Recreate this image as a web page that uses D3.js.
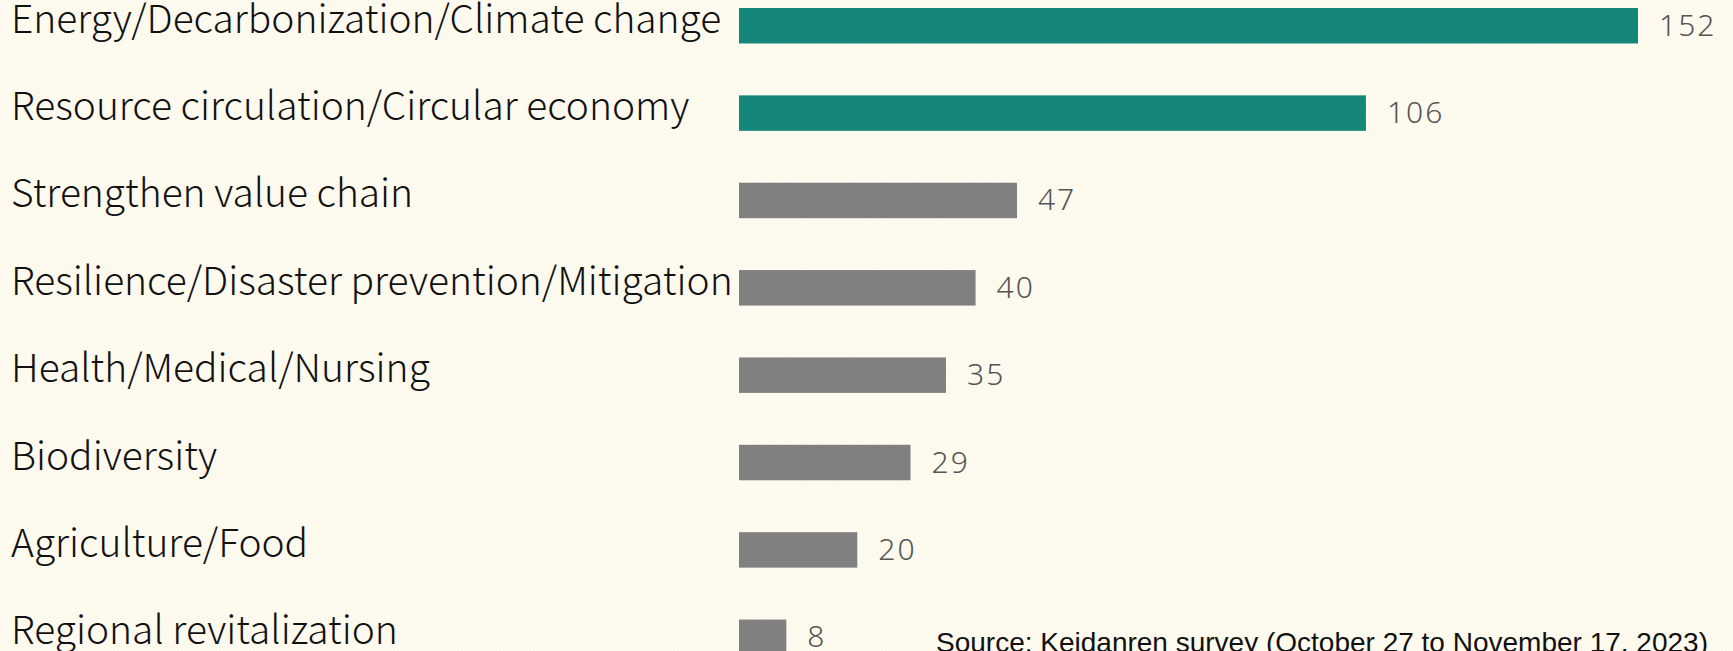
<!DOCTYPE html>
<html>
<head>
<meta charset="utf-8">
<script src="https://cdn.jsdelivr.net/npm/d3@7"></script>
<style>
  html, body { margin: 0; padding: 0; background: #fdf9ee; overflow: hidden; }
</style>
</head>
<body>
<script>
// survey answers
var categories = [
  "Energy/Decarbonization/Climate change",
  "Resource circulation/Circular economy",
  "Strengthen value chain",
  "Resilience/Disaster prevention/Mitigation",
  "Health/Medical/Nursing",
  "Biodiversity",
  "Agriculture/Food",
  "Regional revitalization"
];
var counts = [152, 106, 47, 40, 35, 29, 20, 8];
var highlighted = [
  "Energy/Decarbonization/Climate change",
  "Resource circulation/Circular economy"
];
var sourceNote = "Source: Keidanren survey (October 27 to November 17, 2023)";

var width = 1733, height = 651;
var data = categories.map(function(c, i) { return {name: c, value: counts[i]}; });

var svg = d3.select("body").append("svg")
    .attr("width", width)
    .attr("height", height);

// faint diagonal hatch in the background
var defs = svg.append("defs");
var pat = defs.append("pattern")
    .attr("id", "hatch")
    .attr("width", 3)
    .attr("height", 3)
    .attr("patternUnits", "userSpaceOnUse")
    .attr("patternTransform", "rotate(45)");
pat.append("rect").attr("width", 3).attr("height", 3).attr("fill", "#fefbf1");
pat.append("line")
    .attr("x1", 0).attr("y1", 0).attr("x2", 0).attr("y2", 3)
    .attr("stroke", "#faf4df")
    .attr("stroke-width", 1);
svg.append("rect")
    .attr("width", width)
    .attr("height", height)
    .attr("fill", "url(#hatch)");

var x = d3.scaleLinear()
    .domain([0, d3.max(counts)])
    .range([739, 1638]);

var y = d3.scaleBand()
    .domain(categories)
    .range([8, 655])
    .paddingInner(0.594)
    .paddingOuter(0);

svg.append("g")
  .selectAll("rect")
    .data(data)
  .enter().append("rect")
    .attr("x", x(0))
    .attr("y", function(d) { return y(d.name); })
    .attr("width", function(d) { return x(d.value) - x(0); })
    .attr("height", y.bandwidth())
    .attr("fill", function(d) { return highlighted.indexOf(d.name) >= 0 ? "#15877a" : "#808080"; });

// category labels, sized so the longest one ends just before the bars
var labels = svg.append("g")
  .selectAll("text")
    .data(data)
  .enter().append("text")
    .attr("x", 11)
    .attr("y", function(d) { return y(d.name) + y.bandwidth() / 2 + 7; })
    .style("font-family", "'Noto Sans CJK JP', 'Noto Sans', sans-serif")
    .style("font-weight", 300)
    .style("font-size", "36px")
    .style("fill", "#111")
    .text(function(d) { return d.name; });

var widest = d3.max(labels.nodes(), function(n) { return n.getComputedTextLength(); });
var fs = 36 * 722 / widest;
labels.style("font-size", fs + "px");

svg.append("g")
  .selectAll("text")
    .data(data)
  .enter().append("text")
    .attr("x", function(d) { return x(d.value) + 21; })
    .attr("y", function(d) { return y(d.name) + y.bandwidth() / 2 + 10; })
    .style("font-family", "'Noto Sans', 'DejaVu Sans', sans-serif")
    .style("font-weight", 300)
    .style("font-size", "30px")
    .style("letter-spacing", "2px")
    .style("fill", "#555")
    .text(function(d) { return d.value; });

svg.append("text")
    .attr("x", 936)
    .attr("y", 652)
    .style("font-family", "'Liberation Sans', Arial, sans-serif")
    .style("font-size", "28px")
    .style("fill", "#111")
    .text(sourceNote);
</script>
</body>
</html>
